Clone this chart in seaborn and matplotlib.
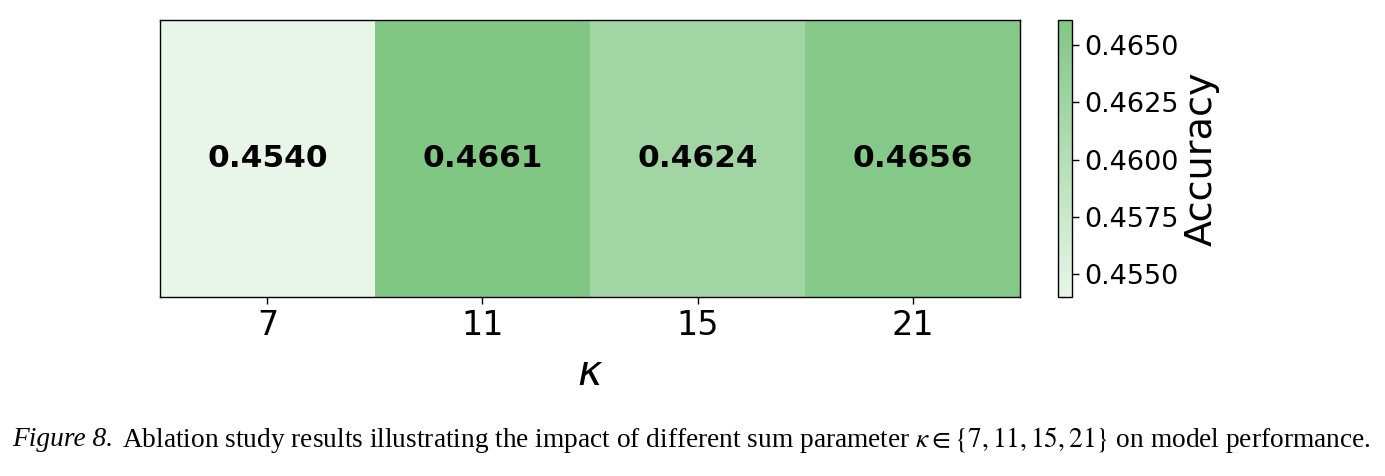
import matplotlib
matplotlib.use("Agg")
import matplotlib.pyplot as plt
import pandas as pd
import seaborn as sns
from matplotlib.colors import LinearSegmentedColormap
from matplotlib.ticker import FormatStrFormatter

# --- data ---
kappa_values = [7, 11, 15, 21]
accuracy = [0.4540, 0.4661, 0.4624, 0.4656]
cbar_ticks = [0.4550, 0.4575, 0.4600, 0.4625, 0.4650]

sns.set_theme(style="white")
plt.rcParams['font.family'] = ['DejaVu Sans']
plt.rcParams['mathtext.fontset'] = 'dejavusans'

df = pd.DataFrame([accuracy], columns=kappa_values)
cmap = LinearSegmentedColormap.from_list("soft_green", ["#E8F5E9", "#81C784"])

fig = plt.figure(figsize=(13.85, 4.76), dpi=100)
ax = fig.add_axes([0.1155, 0.376, 0.621, 0.582])
cax = fig.add_axes([0.764, 0.376, 0.0101, 0.582])

sns.heatmap(df, ax=ax, cbar_ax=cax, cmap=cmap, annot=True, fmt=".4f",
            vmin=min(accuracy), vmax=max(accuracy),
            annot_kws={"fontsize": 22.5, "fontweight": "bold", "color": "black"},
            yticklabels=False)

for side in ax.spines.values():
    side.set_visible(True)
    side.set_color("black")
    side.set_linewidth(1.0)

ax.tick_params(axis='x', labelsize=24, bottom=True, length=5, width=1, color="black",
               labelcolor="black", rotation=0)
ax.set_xlabel(r"$\kappa$", fontsize=30, color="black", labelpad=7)

cbar = ax.collections[0].colorbar
cbar.set_ticks(cbar_ticks)
cbar.ax.yaxis.set_major_formatter(FormatStrFormatter("%.4f"))
cbar.ax.tick_params(labelsize=19.5, right=True, length=5, width=1, color="black", labelcolor="black")
cbar.set_label("Accuracy", fontsize=27.5, color="black", labelpad=4)
cbar.outline.set_visible(True)
cbar.outline.set_edgecolor("black")
cbar.outline.set_linewidth(1.0)

# caption: italic "Figure 8." followed by upright text
plt.rcParams['mathtext.fontset'] = 'stix'
t1 = fig.text(0.009, 0.076, "Figure 8.", fontsize=19.7, family=['Liberation Serif'],
              style="italic", color="black", ha="left", va="center")
fig.canvas.draw()
bb = t1.get_window_extent()
x2 = (bb.x1 + 8) / fig.bbox.width
fig.text(x2, 0.076, r"Ablation study results illustrating the impact of different sum parameter "
         r"$\kappa \in \{7, 11, 15, 21\}$ on model performance.",
         fontsize=19.7, family=['Liberation Serif'], color="black", ha="left", va="center")

fig.savefig("out.png", dpi=100, facecolor="white")
